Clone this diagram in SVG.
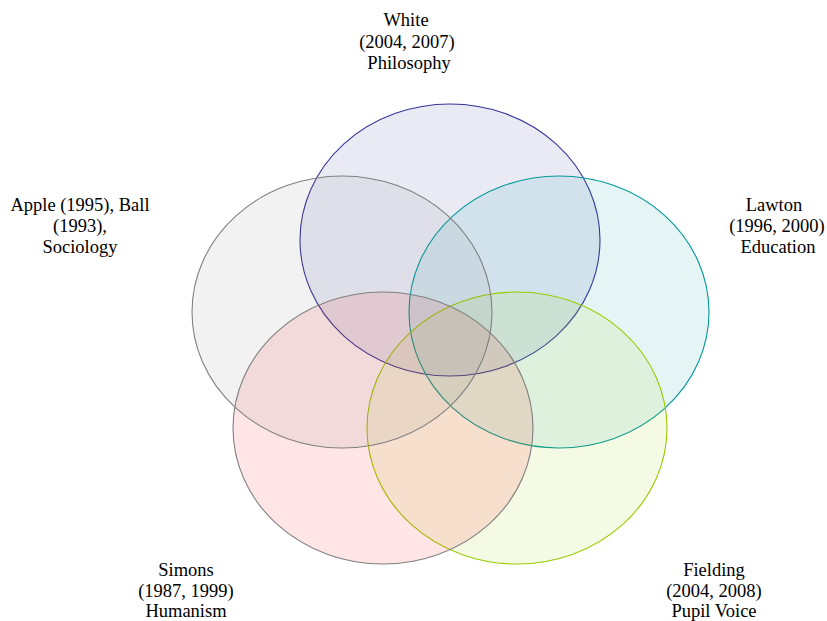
<svg xmlns="http://www.w3.org/2000/svg" width="827" height="621" viewBox="0 0 827 621">
<style>
.set{stroke-width:1.1;fill-opacity:0.1}
.lbl{font-family:"Liberation Serif","Times New Roman",serif;font-size:18.5px;fill:#000;text-anchor:middle}
</style>
<rect width="827" height="621" fill="#fff"/>
<g id="white">
<ellipse class="set" cx="450" cy="240" rx="150" ry="136" fill="#333399" stroke="#333399"/>
<text class="lbl" x="406" y="26">White</text>
<text class="lbl" x="407" y="48">(2004, 2007)</text>
<text class="lbl" x="409" y="69">Philosophy</text>
</g>
<g id="lawton">
<ellipse class="set" cx="559" cy="312" rx="150" ry="136" fill="#009999" stroke="#009999"/>
<text class="lbl" x="774" y="211">Lawton</text>
<text class="lbl" x="777" y="232">(1996, 2000)</text>
<text class="lbl" x="778" y="253">Education</text>
</g>
<g id="fielding">
<ellipse class="set" cx="517" cy="428" rx="150" ry="136" fill="#99CC00" stroke="#99CC00"/>
<text class="lbl" x="714" y="576">Fielding</text>
<text class="lbl" x="714" y="597">(2004, 2008)</text>
<text class="lbl" x="714" y="617">Pupil Voice</text>
</g>
<g id="simons">
<ellipse class="set" cx="383" cy="428" rx="150" ry="136" fill="#FF0000" stroke="#808080"/>
<text class="lbl" x="186" y="576">Simons</text>
<text class="lbl" x="186" y="597">(1987, 1999)</text>
<text class="lbl" x="186" y="617">Humanism</text>
</g>
<g id="apple">
<ellipse class="set" cx="342" cy="312" rx="150" ry="136" fill="#808080" stroke="#808080"/>
<text class="lbl" x="80" y="211">Apple (1995), Ball</text>
<text class="lbl" x="80" y="232">(1993),</text>
<text class="lbl" x="80" y="253">Sociology</text>
</g>
<g id="connectors"></g>
</svg>
